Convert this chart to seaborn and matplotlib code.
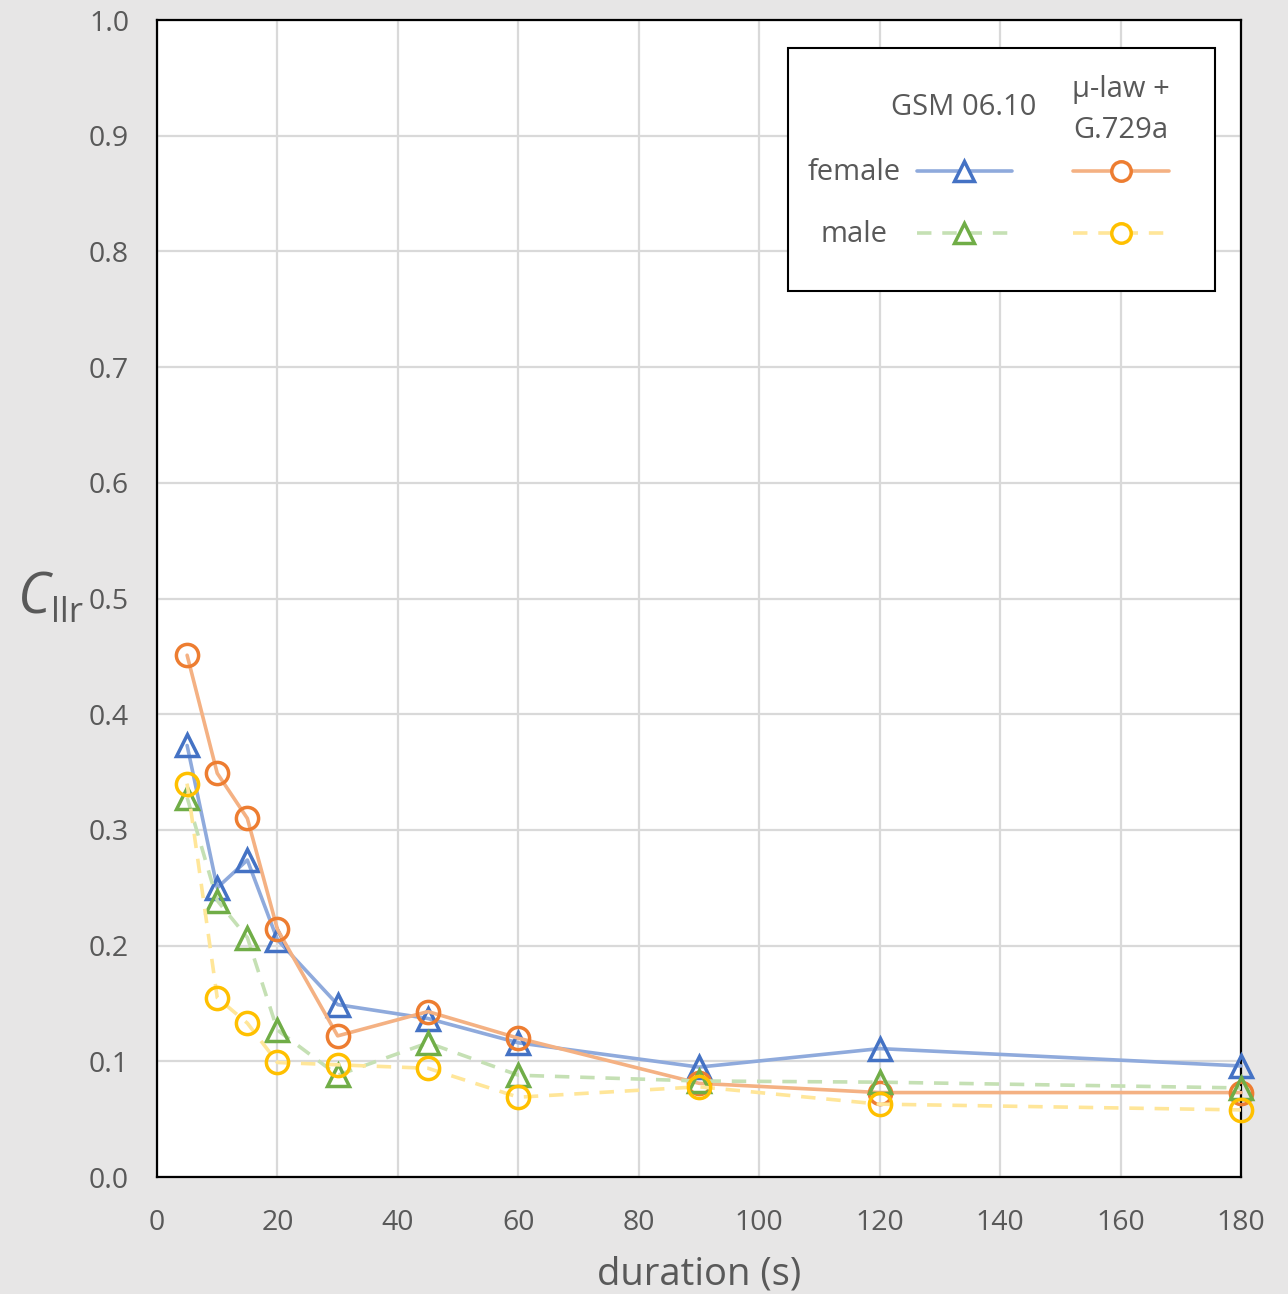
import matplotlib
matplotlib.use("Agg")
import matplotlib.pyplot as plt
import seaborn as sns
import pandas as pd
from matplotlib.lines import Line2D
from matplotlib.patches import Rectangle

duration = [5, 10, 15, 20, 30, 45, 60, 90, 120, 180]
gsm_female = [0.373, 0.250, 0.274, 0.205, 0.149, 0.137, 0.116, 0.095, 0.111, 0.096]
gsm_male = [0.328, 0.239, 0.207, 0.127, 0.088, 0.116, 0.088, 0.083, 0.082, 0.077]
mulaw_female = [0.451, 0.349, 0.310, 0.214, 0.122, 0.143, 0.120, 0.081, 0.073, 0.073]
mulaw_male = [0.340, 0.155, 0.133, 0.099, 0.097, 0.094, 0.069, 0.078, 0.063, 0.058]

x_ticks = [0, 20, 40, 60, 80, 100, 120, 140, 160, 180]
y_ticks = [0.0, 0.1, 0.2, 0.3, 0.4, 0.5, 0.6, 0.7, 0.8, 0.9, 1.0]

sns.set_theme(style="white")
plt.rcParams["font.family"] = ["Open Sans", "DejaVu Sans"]

BG = "#E7E6E6"
TXT = "#595959"

fig = plt.figure(figsize=(12.88, 12.94), dpi=100, facecolor=BG)
ax = fig.add_axes([0.1219, 0.0904, 0.9635 - 0.1219, 0.9845 - 0.0904])
ax.set_facecolor("white")

series = [
    (gsm_female, "^", "#4472C4", "#8FAADC", "-", 3),
    (mulaw_female, "o", "#ED7D31", "#F4B183", "-", 4),
    (gsm_male, "^", "#70AD47", "#C5E0B4", (0, (4, 3)), 5),
    (mulaw_male, "o", "#FFC000", "#FFE699", (0, (4, 3)), 6),
]

for vals, mk, mcol, lcol, ls, z in series:
    df = pd.DataFrame({"duration": duration, "cllr": vals})
    sns.lineplot(data=df, x="duration", y="cllr", ax=ax, color=lcol,
                 linewidth=2.6, linestyle=ls, marker=mk, markersize=16,
                 markerfacecolor="none", markeredgecolor=mcol,
                 markeredgewidth=2.5, errorbar=None, zorder=z, clip_on=False)

ax.set_xlim(0, 180)
ax.set_ylim(0, 1.0)
ax.set_xticks(x_ticks)
ax.set_yticks(y_ticks)
ax.set_xticklabels([str(v) for v in x_ticks])
ax.set_yticklabels([f"{v:.1f}" for v in y_ticks])
ax.tick_params(axis="both", length=0, labelsize=20.5, colors=TXT)
ax.tick_params(axis="y", pad=20)
ax.tick_params(axis="x", pad=23)
ax.grid(True, color="#D9D9D9", linewidth=1.6)
ax.set_axisbelow(True)
for s in ax.spines.values():
    s.set_visible(True)
    s.set_color("black")
    s.set_linewidth(1.6)
    s.set_zorder(2.5)
ax.set_xlabel("")
ax.set_ylabel("")

fig.text(0.5427, 1 - 1274 / 1294, "duration (s)", ha="center", va="center",
         fontsize=27.5, color=TXT)
fig.text(0.0140, 1 - 599 / 1294, "C", ha="left", va="center", fontsize=40,
         style="italic", color=TXT)
fig.text(0.0395, 1 - 613 / 1294, "llr", ha="left", va="center", fontsize=25,
         color=TXT)

# legend table
ax.add_patch(Rectangle((0.582, 0.7658), 0.976 - 0.582, 0.9758 - 0.7658,
                       transform=ax.transAxes, facecolor="white",
                       edgecolor="black", linewidth=1.5, zorder=10))
kw = dict(transform=ax.transAxes, fontsize=21, color=TXT, zorder=11,
          va="center")
ax.text(0.7445, 0.924, "GSM 06.10", ha="center", **kw)
ax.text(0.889, 0.9225, "μ-law +\nG.729a", ha="center", linespacing=1.55, **kw)
ax.text(0.643, 0.8686, "female", ha="center", **kw)
ax.text(0.643, 0.8148, "male", ha="center", **kw)
leg_items = [
    (0.701, 0.789, 0.7445, 0.8695, series[0]),
    (0.845, 0.934, 0.889, 0.8695, series[1]),
    (0.701, 0.789, 0.7445, 0.8158, series[2]),
    (0.845, 0.934, 0.889, 0.8158, series[3]),
]
for x0, x1, xm, yy, (vals, mk, mcol, lcol, ls, z) in leg_items:
    ax.add_line(Line2D([x0, x1], [yy, yy], transform=ax.transAxes, color=lcol,
                       linewidth=2.6, linestyle=ls, zorder=11))
    ax.add_line(Line2D([xm], [yy], transform=ax.transAxes, marker=mk,
                       markersize=14, markerfacecolor="white",
                       markeredgecolor=mcol, markeredgewidth=2.5,
                       linestyle="none", zorder=12))

fig.savefig("out.png", dpi=100, facecolor=BG)
